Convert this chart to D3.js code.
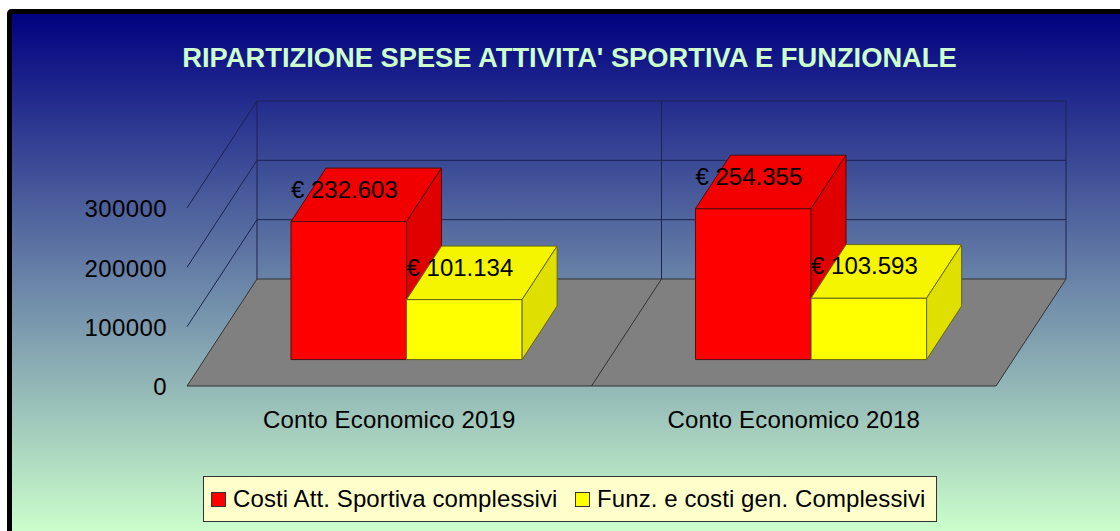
<!DOCTYPE html>
<html>
<head>
<meta charset="utf-8">
<script src="https://cdn.jsdelivr.net/npm/d3@7"></script>
<style>
    html, body { margin: 0; padding: 0; background: #fff; overflow: hidden; }
    svg { display: block; }
    text { font-family: "Liberation Sans", Arial, sans-serif; fill: #000; }
</style>
</head>
<body>
<div id="chart"></div>
<script>
"use strict";

const chartTitle = "RIPARTIZIONE SPESE ATTIVITA' SPORTIVA E FUNZIONALE";
const categories = ["Conto Economico 2019", "Conto Economico 2018"];
const seriesNames = ["Costi Att. Sportiva complessivi", "Funz. e costi gen. Complessivi"];
const costiSportiva = [232603, 254355];
const funzCosti = [101134, 103593];
const yTicks = [0, 100000, 200000, 300000];
const seriesValues = [costiSportiva, funzCosti];

(function () {
    const width = 1120;
    const height = 531;
    const fontSize = 24;

    const svg = d3.select("#chart")
        .append("svg")
        .attr("width", width)
        .attr("height", height);

    const grad = svg.append("defs").append("linearGradient")
        .attr("id", "bg")
        .attr("x1", 0).attr("y1", 0).attr("x2", 0).attr("y2", 1);
    grad.append("stop").attr("offset", "0%").attr("stop-color", "#000080");
    grad.append("stop").attr("offset", "100%").attr("stop-color", "#ccffcc");

    // frame runs off the right and bottom of the window
    svg.append("rect")
        .attr("x", 9.5).attr("y", 11.5)
        .attr("width", 1130).attr("height", 522)
        .attr("rx", 2)
        .attr("fill", "url(#bg)")
        .attr("stroke", "#000")
        .attr("stroke-width", 5);

    svg.append("text")
        .attr("x", 569.5).attr("y", 67)
        .attr("text-anchor", "middle")
        .attr("font-size", 27.3)
        .attr("font-weight", "bold")
        .style("fill", "#ccffcc")
        .text(chartTitle);

    // 3d box: x along the floor front, y up from the floor, z into the depth
    const floorY = 386;
    const x0 = d3.scaleBand().domain(categories).range([187, 996]);
    const x1 = d3.scaleBand().domain(seriesNames).range([0, x0.bandwidth()])
        .paddingInner(0).paddingOuter(0.75);
    const y = d3.scaleLinear().domain([0, 300000]).range([0, -178]);
    const zx = d3.scaleLinear().domain([0, 1]).range([0, 70]);
    const zy = d3.scaleLinear().domain([0, 1]).range([0, -107]);

    function project(px, v, z) {
        return [px + zx(z), floorY + y(v) + zy(z)];
    }

    function poly(parent, points, fill, stroke) {
        parent.append("path")
            .attr("d", d3.line()(points) + "Z")
            .attr("fill", fill)
            .attr("stroke", stroke)
            .attr("stroke-width", 1)
            .attr("stroke-linejoin", "round");
    }

    const left = x0.range()[0];
    const right = x0.range()[1];
    const yMax = yTicks[yTicks.length - 1];
    const gridColor = "#1c2350";

    const walls = svg.append("g").attr("fill", "none").attr("stroke", gridColor).attr("stroke-width", 1);
    for (let t of yTicks) {
        if (t === 0) continue;
        walls.append("path").attr("d", d3.line()([project(left, t, 0), project(left, t, 1), project(right, t, 1)]));
    }
    walls.append("path").attr("d", d3.line()([project(left, 0, 1), project(left, yMax, 1)]));
    walls.append("path").attr("d", d3.line()([project(right, 0, 1), project(right, yMax, 1)]));
    walls.append("path").attr("d", d3.line()([project(x0(categories[1]), 0, 1), project(x0(categories[1]), yMax, 1)]));

    poly(svg, [project(left, 0, 0), project(left, 0, 1), project(right, 0, 1), project(right, 0, 0)], "#808080", "#333");
    svg.append("path")
        .attr("d", d3.line()([project(x0(categories[1]), 0, 0), project(x0(categories[1]), 0, 1)]))
        .attr("stroke", "#333").attr("fill", "none");

    // bars
    const barColors = [
        { front: "#ff0000", top: "#f20000", side: "#e00000", stroke: "#4d1010" },
        { front: "#ffff00", top: "#f5f500", side: "#e0e000", stroke: "#66661a" }
    ];
    const zNear = 0.247;
    const zFar = 0.747;
    const bars = svg.append("g");
    const labels = [];

    categories.forEach(function (cat, i) {
        seriesNames.forEach(function (name, s) {
            const v = seriesValues[s][i];
            const c = barColors[s];
            const a = x0(cat) + x1(name);
            const b = a + x1.bandwidth();
            poly(bars, [project(a, 0, zNear), project(b, 0, zNear), project(b, v, zNear), project(a, v, zNear)], c.front, c.stroke);
            poly(bars, [project(a, v, zNear), project(b, v, zNear), project(b, v, zFar), project(a, v, zFar)], c.top, c.stroke);
            poly(bars, [project(b, 0, zNear), project(b, 0, zFar), project(b, v, zFar), project(b, v, zNear)], c.side, c.stroke);
            const p = project(a, v, zNear);
            labels.push({ x: p[0], y: p[1] - 24, text: "€ " + d3.format(",")(v).replace(/,/g, ".") });
        });
    });

    svg.append("g").selectAll("text")
        .data(labels)
        .join("text")
        .attr("x", d => d.x)
        .attr("y", d => d.y)
        .attr("font-size", fontSize)
        .text(d => d.text);

    // value axis labels, front left edge
    const yAxisScale = d3.scaleLinear().domain(y.domain()).range([floorY + 1, floorY + 1 + y(yMax)]);
    const yAxis = svg.append("g")
        .attr("transform", "translate(174,0)")
        .call(d3.axisLeft(yAxisScale).tickValues(yTicks).tickSize(0).tickPadding(7).tickFormat(d3.format("d")));
    yAxis.select(".domain").remove();
    yAxis.selectAll("text")
        .attr("font-size", fontSize)
        .attr("font-family", "Liberation Sans")
        .attr("letter-spacing", 0.4)
        .attr("dy", "0.32em");

    // category labels
    const xAxis = svg.append("g")
        .attr("transform", "translate(0,400)")
        .call(d3.axisBottom(x0).tickSize(0).tickPadding(11));
    xAxis.select(".domain").remove();
    xAxis.selectAll("text")
        .attr("font-size", fontSize)
        .attr("font-family", "Liberation Sans")
        .attr("letter-spacing", 0.15);

    // legend
    const legend = svg.append("g");
    legend.append("rect")
        .attr("x", 203.5).attr("y", 476.5)
        .attr("width", 733).attr("height", 45)
        .attr("fill", "#ffffcc")
        .attr("stroke", "#333");
    const legendX = [211, 575];
    seriesNames.forEach(function (name, s) {
        legend.append("rect")
            .attr("x", legendX[s] + 0.5).attr("y", 492.5)
            .attr("width", 14).attr("height", 14)
            .attr("fill", barColors[s].front)
            .attr("stroke", "#333");
        legend.append("text")
            .attr("x", legendX[s] + 22).attr("y", 507)
            .attr("font-size", fontSize)
            .attr("letter-spacing", 0.1)
            .text(name);
    });
})();
</script>
</body>
</html>
